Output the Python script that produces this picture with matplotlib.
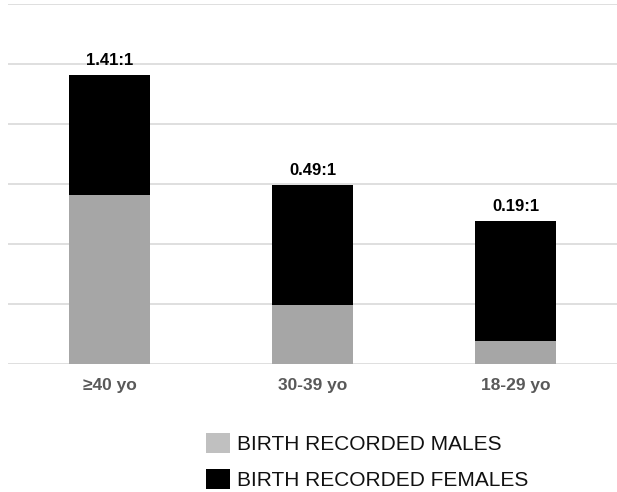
import matplotlib
matplotlib.use('Agg')

import matplotlib.pyplot as plt
from matplotlib.patches import Patch
import numpy as np

# data (ratio males:females, females normalised to 1)
categories = ['≥40 yo', '30-39 yo', '18-29 yo']
males = [1.41, 0.49, 0.19]
females = [1.0, 1.0, 1.0]
ratio_labels = ['1.41:1', '0.49:1', '0.19:1']

bar_gray = '#a6a6a6'
legend_gray = '#c0c0c0'
grid_col = '#d9d9d9'

plt.rcParams['font.family'] = ['Liberation Sans', 'DejaVu Sans']

fig = plt.figure(figsize=(6.17, 4.92), dpi=100)
ax = fig.add_axes([8 / 617, 1 - 364 / 492, 1 - 8 / 617, 360 / 492])

x = np.arange(len(categories))
ax.bar(x, males, width=0.4, color=bar_gray, zorder=3)
ax.bar(x, females, width=0.4, bottom=males, color='black', zorder=3)

# ratio labels on top of bars
for xi, m, f, lab in zip(x, males, females, ratio_labels):
    ax.text(xi, m + f + 0.06, lab, ha='center', va='bottom',
            fontsize=12, fontweight='bold', color='black', zorder=4)

ax.set_xlim(-0.5, 2.5)
ax.set_ylim(0, 3)
ax.set_yticks(np.arange(0, 3.01, 0.5))
ax.yaxis.grid(True, color=grid_col, linewidth=1.2, zorder=0)
ax.tick_params(axis='y', length=0, labelleft=False)
ax.tick_params(axis='x', length=0, pad=10)
ax.set_xticks(x)
ax.set_xticklabels(categories, fontsize=12.5, fontweight='bold', color='#595959')
for s in ax.spines.values():
    s.set_visible(False)

handles = [Patch(facecolor=legend_gray, edgecolor='none'),
           Patch(facecolor='black', edgecolor='none')]
fig.legend(handles, ['BIRTH RECORDED MALES', 'BIRTH RECORDED FEMALES'],
           loc='upper left', bbox_to_anchor=(198 / 617, 1 - 425 / 492),
           frameon=False, fontsize=15, handlelength=1.15, handleheight=1.1,
           handletextpad=0.3, labelspacing=0.7, borderaxespad=0,
           labelcolor='#111111')

plt.savefig('out.png', dpi=100)
plt.close()
